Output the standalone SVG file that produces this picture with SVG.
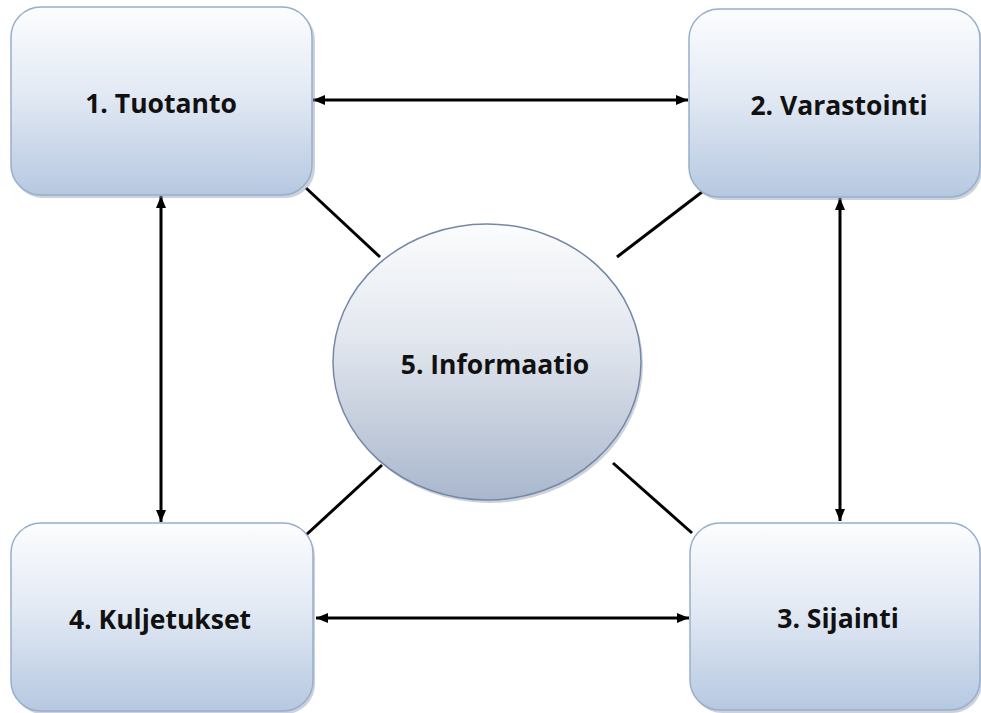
<svg xmlns="http://www.w3.org/2000/svg" width="981" height="713" viewBox="0 0 981 713">
<defs>
<linearGradient id="gBox" x1="0" y1="0" x2="0" y2="1">
<stop offset="0" stop-color="#fcfdfe"/>
<stop offset="0.45" stop-color="#e3eaf4"/>
<stop offset="1" stop-color="#b6c8e1"/>
</linearGradient>
<linearGradient id="gCirc" x1="0" y1="0" x2="0" y2="1">
<stop offset="0" stop-color="#fbfcfd"/>
<stop offset="0.4" stop-color="#e4e8ef"/>
<stop offset="1" stop-color="#a9b7cd"/>
</linearGradient>
<marker id="ah" viewBox="0 0 12 10" refX="12" refY="5" markerWidth="12" markerHeight="10" markerUnits="userSpaceOnUse" orient="auto-start-reverse">
<path d="M0,0 L12,5 L0,10 Z" fill="#000"/>
</marker>
</defs>
<style>
.box{fill:url(#gBox);stroke:#98aecb;stroke-width:1.5}
.shadow{fill:#8e9bb0;opacity:0.45}
.circ{fill:url(#gCirc);stroke:#7487a6;stroke-width:1.5}
.lbl{font-family:"Open Sans","Liberation Sans",sans-serif;font-weight:bold;font-size:26.5px;fill:#111;text-anchor:middle}
.arr{stroke:#000;stroke-width:3;fill:none;marker-start:url(#ah);marker-end:url(#ah)}
.ln{stroke:#000;stroke-width:3;fill:none}
</style>
<rect width="981" height="713" fill="#fff"/>
<g id="connectors">
<line class="arr" x1="313" y1="100" x2="688" y2="100"/>
<line class="arr" x1="316" y1="618" x2="689" y2="618"/>
<line class="arr" x1="161" y1="196" x2="161" y2="522"/>
<line class="arr" x1="840" y1="198" x2="840" y2="521"/>
<line class="ln" x1="306" y1="188" x2="380" y2="257"/>
<line class="ln" x1="702" y1="192" x2="617" y2="257"/>
<line class="ln" x1="382" y1="465" x2="306" y2="535"/>
<line class="ln" x1="613" y1="463" x2="692" y2="533"/>
</g>
<g id="n1">
<rect class="shadow" x="13" y="10" width="302" height="188" rx="30"/>
<rect class="box" x="11" y="7" width="301" height="188" rx="30"/>
<text class="lbl" x="161" y="113">1. Tuotanto</text>
</g>
<g id="n2">
<rect class="shadow" x="691" y="12" width="291" height="188" rx="30"/>
<rect class="box" x="689" y="9" width="291" height="188" rx="30"/>
<text class="lbl" x="839" y="115">2. Varastointi</text>
</g>
<g id="n3">
<rect class="shadow" x="692" y="526" width="290" height="187" rx="30"/>
<rect class="box" x="690" y="523" width="290" height="187" rx="30"/>
<text class="lbl" x="838" y="628">3. Sijainti</text>
</g>
<g id="n4">
<rect class="shadow" x="13" y="526" width="302" height="188" rx="30"/>
<rect class="box" x="11" y="523" width="302" height="188" rx="30"/>
<text class="lbl" x="160" y="629">4. Kuljetukset</text>
</g>
<g id="n5">
<ellipse class="shadow" cx="489" cy="365" rx="154" ry="138"/>
<ellipse class="circ" cx="487" cy="362" rx="154" ry="138"/>
<text class="lbl" x="495" y="374">5. Informaatio</text>
</g>
</svg>
